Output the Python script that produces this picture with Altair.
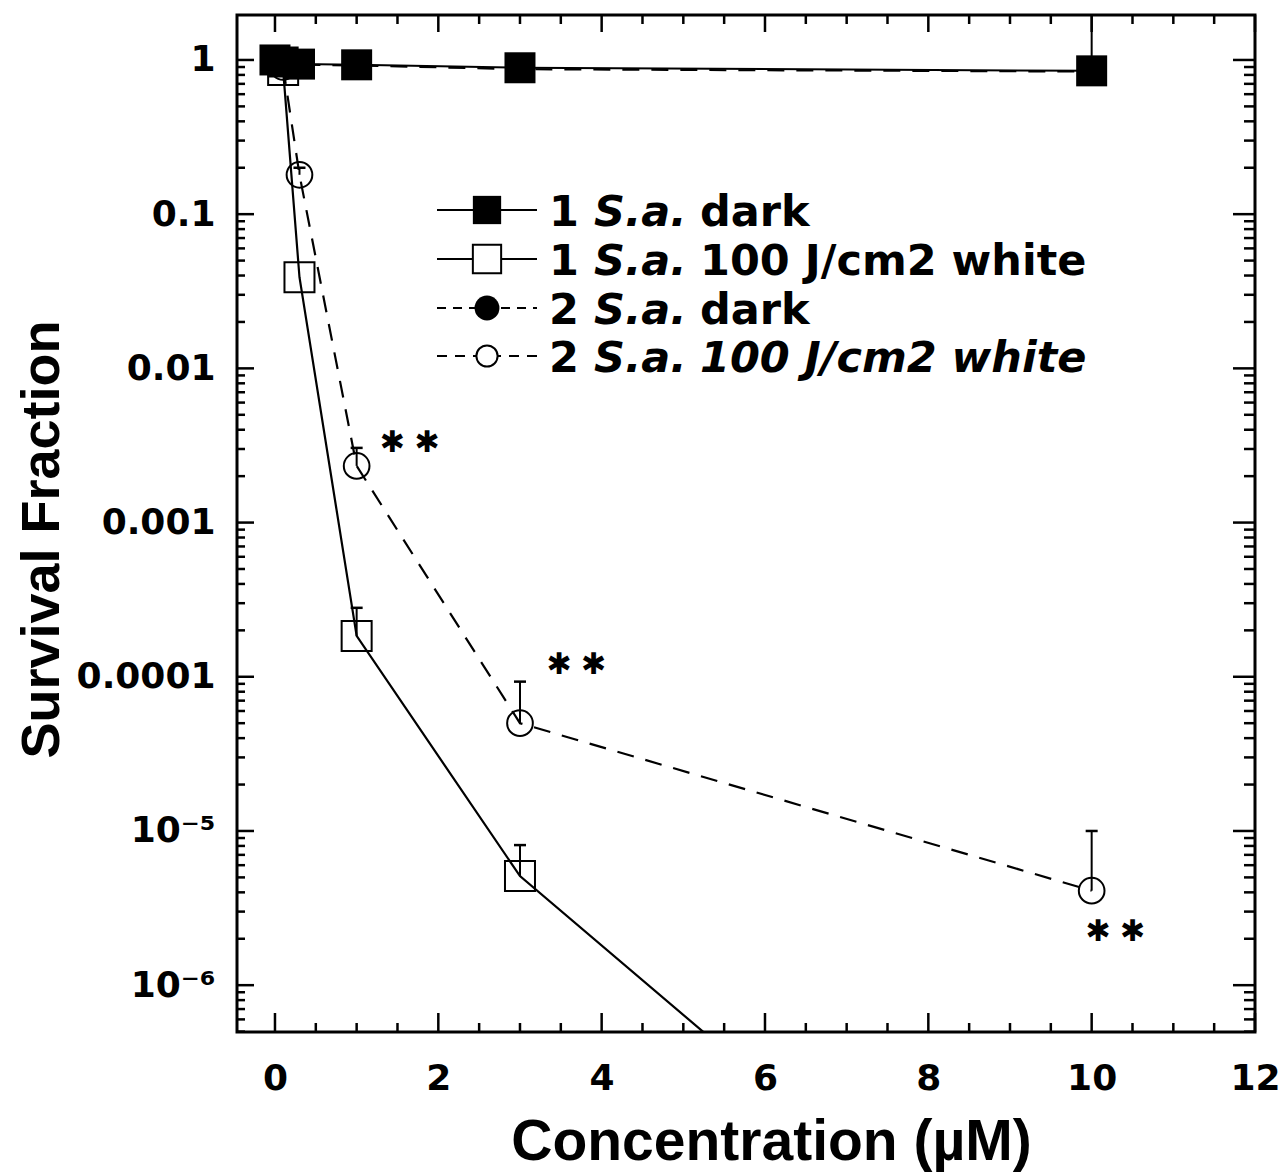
import altair as alt
import pandas as pd

# ---------------- data ----------------
conc_dark = [0, 0.1, 0.3, 1, 3, 10]
sa1_dark = [1.0, 0.97, 0.94, 0.93, 0.89, 0.85]
sa2_dark = [1.0, 0.96, 0.93, 0.92, 0.87, 0.84]

conc_white = [0.1, 0.3, 1, 3, 10]
sa1_white = [0.86, 0.039, 1.84e-4, 5.1e-6, 3.6e-9]
sa2_white = [0.9, 0.18, 2.33e-3, 5.0e-5, 4.1e-6]

err_x = [10, 1, 3, 0.3, 1, 3, 10]
err_lo = [0.85, 1.84e-4, 5.1e-6, 0.18, 2.33e-3, 5.0e-5, 4.1e-6]
err_hi = [3.0, 2.8e-4, 8.1e-6, 0.2, 3.05e-3, 9.3e-5, 1.0e-5]

star_x = [1.65, 3.69, 10.29]
star_y = [3.3e-3, 1.2e-4, 2.2e-6]
star_text = "\u2731 \u2731"

x_major = [0, 2, 4, 6, 8, 10, 12]
x_minor = [0.5, 1, 1.5, 2.5, 3, 3.5, 4.5, 5, 5.5, 6.5, 7, 7.5, 8.5, 9, 9.5, 10.5, 11, 11.5]
y_major = [1, 0.1, 0.01, 0.001, 0.0001, 1e-5, 1e-6]
y_minor = [m * 10.0 ** e for e in range(-7, 0) for m in range(2, 10) if m * 10.0 ** e >= 4.99e-7]

legend_num = ["1", "1", "2", "2"]
legend_species = ["S.a.", "S.a.", "S.a.", "S.a."]
legend_rest = ["dark", "100 J/cm2 white", "dark", "100 J/cm2 white"]
legend_rest_italic = [False, False, False, True]

# ---------------- layout ----------------
W, H = 1018, 1017
BLACK = "black"

xs = alt.Scale(domain=[-0.465, 12], nice=False, zero=False)
ys = alt.Scale(type="log", domain=[4.97e-7, 1.957], nice=False)

xaxis = alt.Axis(
    values=x_major, ticks=False, domain=False, grid=False,
    labelFlush=False, labelOverlap=False, labelBound=False,
    labelFont="DejaVu Sans", labelFontWeight="bold", labelFontSize=36,
    labelColor=BLACK, labelPadding=29,
    title="Concentration (\u00b5M)", titleFont="Liberation Sans", titleFontSize=57,
    titleFontWeight="bold", titleColor=BLACK, titleX=534, titleY=127,
    titleBaseline="alphabetic", titleAlign="center",
)
yaxis = alt.Axis(
    values=y_major, ticks=False, domain=False, grid=False,
    labelFlush=False, labelOverlap=False, labelBound=False,
    labelExpr="datum.value >= 0.00005 ? toString(datum.value) : (datum.value > 0.000005 ? '10\u207b\u2075' : '10\u207b\u2076')",
    labelFont="DejaVu Sans", labelFontWeight="bold", labelFontSize=36,
    labelColor=BLACK, labelPadding=22,
    title="Survival Fraction", titleFont="Liberation Sans", titleFontSize=54,
    titleFontWeight="bold", titleColor=BLACK, titleX=-179, titleY=524,
    titleAngle=270, titleBaseline="alphabetic", titleAlign="center",
)


def XE(f="x"):
    return alt.X(f"{f}:Q", scale=xs, axis=xaxis)


def YE(f="y"):
    return alt.Y(f"{f}:Q", scale=ys, axis=yaxis)


df_s1d = pd.DataFrame({"x": conc_dark, "y": sa1_dark})
df_s2d = pd.DataFrame({"x": conc_dark, "y": sa2_dark})
df_s1w = pd.DataFrame({"x": conc_white, "y": sa1_white})
df_s2w = pd.DataFrame({"x": conc_white, "y": sa2_white})
df_err = pd.DataFrame({"x": err_x, "lo": err_lo, "hi": err_hi})
df_star = pd.DataFrame({"x": star_x, "y": star_y})

layers = []

# lines
dash = [17, 12]
layers.append(alt.Chart(df_s2d).mark_line(color=BLACK, strokeWidth=2, strokeDash=dash, clip=True).encode(x=XE(), y=YE()))
layers.append(alt.Chart(df_s1d).mark_line(color=BLACK, strokeWidth=2, clip=True).encode(x=XE(), y=YE()))
layers.append(alt.Chart(df_s1w).mark_line(color=BLACK, strokeWidth=2.2, clip=True).encode(x=XE(), y=YE()))
layers.append(alt.Chart(df_s2w).mark_line(color=BLACK, strokeWidth=2.2, strokeDash=dash, clip=True).encode(x=XE(), y=YE()))

# error bars (upper only)
layers.append(alt.Chart(df_err).mark_rule(color=BLACK, strokeWidth=2, clip=True).encode(
    x=XE(), y=YE("lo"), y2=alt.Y2("hi")))
layers.append(alt.Chart(df_err).mark_tick(color=BLACK, orient="horizontal", size=12, thickness=2.5, opacity=1, clip=True).encode(
    x=XE(), y=YE("hi")))

# markers
layers.append(alt.Chart(df_s2d).mark_point(shape="circle", filled=True, size=620, opacity=1, color=BLACK, clip=True).encode(x=XE(), y=YE()))
layers.append(alt.Chart(df_s1w).mark_point(shape="square", filled=False, size=900, opacity=1, color=BLACK, strokeWidth=2, clip=True).encode(x=XE(), y=YE()))
layers.append(alt.Chart(df_s2w).mark_point(shape="circle", filled=False, size=660, opacity=1, color=BLACK, strokeWidth=2, clip=True).encode(x=XE(), y=YE()))
layers.append(alt.Chart(df_s1d).mark_point(shape="square", filled=True, size=961, opacity=1, color=BLACK, clip=True).encode(x=XE(), y=YE()))

# significance stars
layers.append(alt.Chart(df_star).mark_text(text=star_text, font="DejaVu Sans", fontSize=30, color=BLACK).encode(x=XE(), y=YE()))

# inward ticks on all four sides
df_xmaj = pd.DataFrame({"x": x_major})
df_xmin = pd.DataFrame({"x": x_minor})
df_ymaj = pd.DataFrame({"y": y_major})
df_ymin = pd.DataFrame({"y": y_minor})
tw = 2.5
layers.append(alt.Chart(df_ymaj).mark_rule(color=BLACK, strokeWidth=tw).encode(y=YE(), x=alt.value(0), x2=alt.value(17)))
layers.append(alt.Chart(df_ymin).mark_rule(color=BLACK, strokeWidth=tw).encode(y=YE(), x=alt.value(0), x2=alt.value(8)))
layers.append(alt.Chart(df_ymaj).mark_rule(color=BLACK, strokeWidth=tw).encode(y=YE(), x=alt.value(W), x2=alt.value(W - 22)))
layers.append(alt.Chart(df_ymin).mark_rule(color=BLACK, strokeWidth=tw).encode(y=YE(), x=alt.value(W), x2=alt.value(W - 11)))
layers.append(alt.Chart(df_xmaj).mark_rule(color=BLACK, strokeWidth=tw).encode(x=XE(), y=alt.value(H), y2=alt.value(H - 19)))
layers.append(alt.Chart(df_xmin).mark_rule(color=BLACK, strokeWidth=tw).encode(x=XE(), y=alt.value(H), y2=alt.value(H - 9)))
layers.append(alt.Chart(df_xmaj).mark_rule(color=BLACK, strokeWidth=tw).encode(x=XE(), y=alt.value(0), y2=alt.value(17)))
layers.append(alt.Chart(df_xmin).mark_rule(color=BLACK, strokeWidth=tw).encode(x=XE(), y=alt.value(0), y2=alt.value(9)))

# hand-drawn legend (mixed italic text)
dummy = pd.DataFrame({"k": [0]})
row_y = [195, 244, 293, 341]
line_x0, line_x1, mark_x = 200, 300, 250
num_x, sp_x, rest_x = 312, 357, 463
leg_dash = [None, None, [9, 7], [10, 8]]
for i in range(4):
    ry = row_y[i]
    rule_kw = dict(color=BLACK, strokeWidth=2)
    if leg_dash[i]:
        rule_kw["strokeDash"] = leg_dash[i]
    layers.append(alt.Chart(dummy).mark_rule(**rule_kw).encode(
        x=alt.value(line_x0), x2=alt.value(line_x1), y=alt.value(ry)))
    if i == 0:
        pm = alt.Chart(dummy).mark_point(shape="square", filled=True, size=800, opacity=1, color=BLACK)
    elif i == 1:
        pm = alt.Chart(dummy).mark_point(shape="square", filled=True, fill="white", stroke=BLACK, strokeWidth=2, size=800, opacity=1)
    elif i == 2:
        pm = alt.Chart(dummy).mark_point(shape="circle", filled=True, size=620, opacity=1, color=BLACK)
    else:
        pm = alt.Chart(dummy).mark_point(shape="circle", filled=True, fill="white", stroke=BLACK, strokeWidth=2, size=450, opacity=1)
    layers.append(pm.encode(x=alt.value(mark_x), y=alt.value(ry)))
    tkw = dict(font="DejaVu Sans", fontWeight="bold", fontSize=43, align="left", baseline="middle", color=BLACK)
    layers.append(alt.Chart(dummy).mark_text(text=legend_num[i], **tkw).encode(x=alt.value(num_x), y=alt.value(ry + 3)))
    layers.append(alt.Chart(dummy).mark_text(text=legend_species[i], fontStyle="italic", **tkw).encode(x=alt.value(sp_x), y=alt.value(ry + 3)))
    rkw = dict(tkw)
    if legend_rest_italic[i]:
        rkw["fontStyle"] = "italic"
    layers.append(alt.Chart(dummy).mark_text(text=legend_rest[i], **rkw).encode(x=alt.value(rest_x), y=alt.value(ry + 3)))

chart = alt.layer(*layers).properties(
    width=W, height=H,
    padding={"left": 237, "top": 15, "right": 28, "bottom": 140},
    autosize=alt.AutoSizeParams(type="none"),
    background="white",
).configure_view(stroke=BLACK, strokeWidth=3)

chart.save("out.html", embed_options={"renderer": "svg", "actions": False})
